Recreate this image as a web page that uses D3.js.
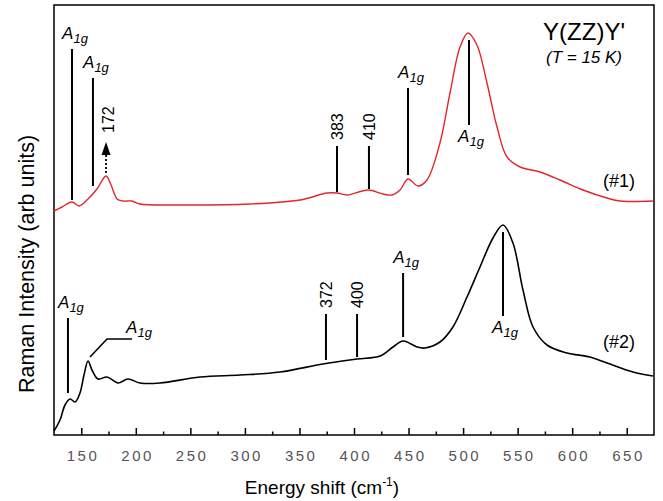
<!DOCTYPE html>
<html>
<head>
  <meta charset="utf-8">
  <script src="https://d3js.org/d3.v7.min.js"></script>
  <style>
    body { margin: 0; background: #fff; }
    text { font-family: "Liberation Sans", Arial, Helvetica, sans-serif; fill: #000; }
    .tick text { font-size: 15px; fill: #555; letter-spacing: 2.5px; }
    .tick line { stroke: #000; stroke-width: 1.5; }
    .axisLabel { font-size: 19px; }
    .mode { font-style: italic; font-size: 17px; }
    .num { font-size: 16px; }
  </style>
</head>
<body>
<div id="chart"></div>
<script>
  // spectrum #1 (red, upper)
  const energy1 = [125, 132.3, 141.5, 147.9, 156.2, 164.4, 172.7, 177.3, 182.8, 188.3, 196.5, 203.8,
    240.5, 304.7, 350.5, 375.3, 384.4, 393.6, 412.8, 426.6, 434.8, 442.2, 449.5, 458.7, 466.9,
    478.8, 488, 497.2, 504.5, 512.7, 521.9, 531.1, 540.3, 552.2, 570.5, 588.8, 609.9, 631.9, 643.8, 674];
  const intensity1 = [224, 228, 233, 229, 236, 246, 259, 250, 236, 234, 234, 231,
    230, 231, 235, 242, 242, 240, 245, 241, 240, 245, 256, 249, 255,
    292, 342, 388, 402, 390, 352, 308, 278, 268, 263, 255, 245, 237, 234, 234];

  // spectrum #2 (black, lower)
  const energy2 = [125, 130.5, 135.1, 139.7, 144.3, 148.8, 152.5, 156.2, 159.8, 165.3, 173.6, 183.7,
    192.8, 203.8, 222.2, 258.9, 295.5, 332.2, 371.6, 402.8, 423.9, 435.8, 445, 457.8, 465.1,
    478.8, 490.7, 503.6, 515.5, 527.4, 536.6, 545.7, 554.9, 564.1, 576.9, 595.2, 616.3, 631.9, 655.7, 674];
  const intensity2 = [4, 15, 30, 36, 33, 42, 60, 74, 65, 56, 58, 52,
    56, 52, 52, 58, 60, 63, 71, 76, 79, 88, 94, 88, 87,
    93, 108, 138, 168, 197, 210, 192, 145, 108, 90, 82, 78, 72, 63, 59];

  // tick values
  const majorTicks = [150, 200, 250, 300, 350, 400, 450, 500, 550, 600, 650];
  const minorTicks = [175, 225, 275, 325, 375, 425, 475, 525, 575, 625];

  // peak markers: position, line from lo to hi (intensity units), label
  const marks1 = [
    {x: 141.5, lo: 235, hi: 386, label: "A1g", kind: "above"},
    {x: 160.7, lo: 249, hi: 357, label: "A1g", kind: "above"},
    {x: 384.4, lo: 243, hi: 289, label: "383", kind: "rot"},
    {x: 413.7, lo: 246, hi: 289, label: "410", kind: "rot"},
    {x: 449.5, lo: 260, hi: 347, label: "A1g", kind: "above"},
    {x: 505.4, lo: 310, hi: 395, label: "A1g", kind: "below"}
  ];
  const arrow1 = {x: 172.7, lo: 262, hi: 293, label: "172"};
  const marks2 = [
    {x: 137.8, lo: 42, hi: 117, label: "A1g", kind: "above"},
    {x: 374.3, lo: 75, hi: 121, label: "372", kind: "rot"},
    {x: 402.8, lo: 78, hi: 121, label: "400", kind: "rot"},
    {x: 445, lo: 98, hi: 162, label: "A1g", kind: "above"},
    {x: 536.6, lo: 119, hi: 203, label: "A1g", kind: "below"}
  ];
  const leader2 = [[158, 78], [173.6, 96], [196.5, 96]];

  const width = 663, height = 501;
  const margin = {top: 5, left: 54, right: 9, bottom: 66};

  const svg = d3.select("#chart").append("svg")
    .attr("width", width).attr("height", height);

  const x = d3.scaleLinear().domain([125, 675])
    .range([margin.left, width - margin.right]);
  const y = d3.scaleLinear().domain([0, 430])
    .range([height - margin.bottom, margin.top]);

  // axis ticks (pointing inwards)
  const xAxis = svg.append("g")
    .attr("transform", `translate(0,${height - margin.bottom})`)
    .call(d3.axisBottom(x).tickValues(majorTicks).tickSizeInner(-7).tickSizeOuter(0).tickPadding(15));
  xAxis.select(".domain").remove();
  xAxis.selectAll("text").attr("dx", "1.25px");

  const xMinor = svg.append("g")
    .attr("transform", `translate(0,${height - margin.bottom})`)
    .call(d3.axisBottom(x).tickValues(minorTicks).tickSizeInner(-3.5).tickSizeOuter(0).tickFormat(""));
  xMinor.select(".domain").remove();

  // frame
  svg.append("rect")
    .attr("x", margin.left).attr("y", margin.top)
    .attr("width", width - margin.left - margin.right)
    .attr("height", height - margin.top - margin.bottom)
    .attr("fill", "none").attr("stroke", "#000").attr("stroke-width", 1.5);

  // spectra
  const line = d3.line()
    .x(d => x(d[0])).y(d => y(d[1]))
    .curve(d3.curveCatmullRom.alpha(0.5));

  svg.append("path")
    .datum(energy1.map((e, i) => [e, intensity1[i]]))
    .attr("d", line).attr("fill", "none")
    .attr("stroke", "#e3262d").attr("stroke-width", 1.4);

  svg.append("path")
    .datum(energy2.map((e, i) => [e, intensity2[i]]))
    .attr("d", line).attr("fill", "none")
    .attr("stroke", "#000").attr("stroke-width", 1.6);

  // A1g style label: italic A with subscript 1g
  function modeLabel(g, px, py) {
    const t = g.append("text").attr("class", "mode")
      .attr("x", px).attr("y", py).attr("text-anchor", "middle");
    t.append("tspan").text("A");
    t.append("tspan").attr("font-size", "13px").attr("dy", 4).text("1g");
  }

  function drawMarks(marks) {
    const g = svg.append("g");
    marks.forEach(m => {
      g.append("line")
        .attr("x1", x(m.x)).attr("x2", x(m.x))
        .attr("y1", y(m.lo)).attr("y2", y(m.hi))
        .attr("stroke", "#000").attr("stroke-width", 2);
      if (m.kind === "above") {
        modeLabel(g, x(m.x) + 3, y(m.hi) - 10);
      } else if (m.kind === "below") {
        modeLabel(g, x(m.x) + 2, y(m.lo) + 17);
      } else {
        g.append("text").attr("class", "num")
          .attr("transform", `translate(${x(m.x) + 6},${y(m.hi) - 6}) rotate(-90)`)
          .text(m.label);
      }
    });
  }
  drawMarks(marks1);
  drawMarks(marks2);

  // dotted arrow at 172
  const ax = x(arrow1.x), tip = y(arrow1.hi);
  svg.append("line")
    .attr("x1", ax).attr("x2", ax)
    .attr("y1", y(arrow1.lo)).attr("y2", tip + 12)
    .attr("stroke", "#000").attr("stroke-width", 1.8)
    .attr("stroke-dasharray", "2,2");
  svg.append("path")
    .attr("d", `M${ax},${tip} L${ax - 4.5},${tip + 13} L${ax + 4.5},${tip + 13} Z`)
    .attr("fill", "#000");
  svg.append("text").attr("class", "num")
    .attr("transform", `translate(${ax + 8},${tip - 9}) rotate(-90)`)
    .text(arrow1.label);

  // bent leader for the second A1g of spectrum #2
  svg.append("path")
    .attr("d", d3.line().x(d => x(d[0])).y(d => y(d[1]))(leader2))
    .attr("fill", "none").attr("stroke", "#000").attr("stroke-width", 1.6);
  modeLabel(svg, x(leader2[2][0]) + 7, y(leader2[2][1]) - 6);

  // sample and geometry labels
  svg.append("text").attr("x", x(657.6)).attr("y", y(248))
    .attr("text-anchor", "end").attr("font-size", 18).text("(#1)");
  svg.append("text").attr("x", x(657.6)).attr("y", y(87))
    .attr("text-anchor", "end").attr("font-size", 18).text("(#2)");
  svg.append("text").attr("x", x(648.4)).attr("y", y(395))
    .attr("text-anchor", "end").attr("font-size", 24).text("Y(ZZ)Y'");
  svg.append("text").attr("x", x(645.7)).attr("y", y(372))
    .attr("text-anchor", "end").attr("font-size", 17).attr("font-style", "italic")
    .text("(T = 15 K)");

  // axis titles
  const xt = svg.append("text").attr("class", "axisLabel")
    .attr("x", 322).attr("y", 494).attr("text-anchor", "middle");
  xt.append("tspan").text("Energy shift (cm");
  xt.append("tspan").attr("font-size", "12px").attr("dy", -8).text("-1");
  xt.append("tspan").attr("dy", 8).text(")");

  svg.append("text")
    .attr("transform", "translate(34,264) rotate(-90)")
    .attr("text-anchor", "middle").attr("font-size", 21.5)
    .text("Raman Intensity (arb units)");
</script>
</body>
</html>
